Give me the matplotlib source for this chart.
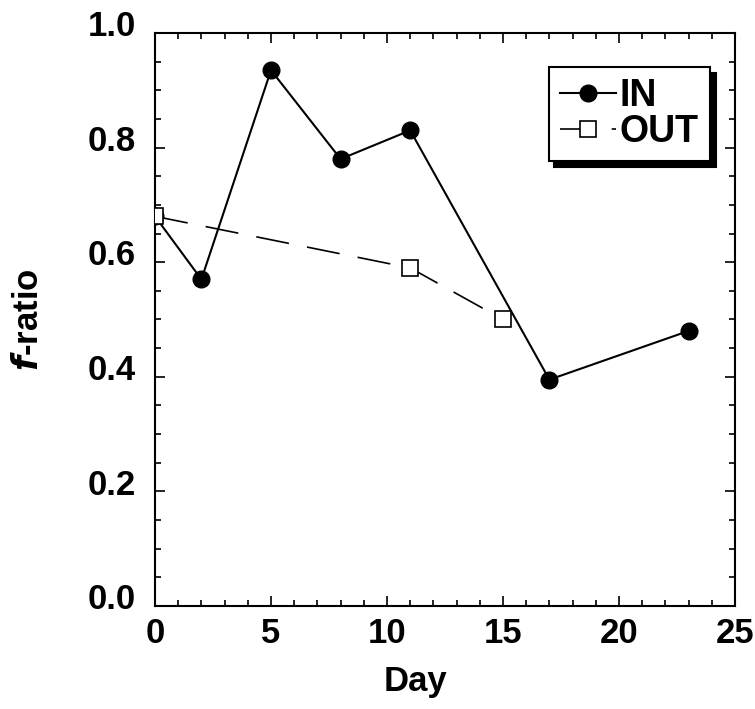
import matplotlib
matplotlib.use("Agg")
import matplotlib.pyplot as plt
from matplotlib.ticker import MultipleLocator
from matplotlib.transforms import ScaledTranslation

plt.rcParams['font.family'] = ['Liberation Sans', 'DejaVu Sans']
plt.rcParams['font.weight'] = 'bold'

# Data
day_in = [0, 2, 5, 8, 11, 17, 23]
f_in = [0.68, 0.57, 0.935, 0.78, 0.83, 0.395, 0.48]
day_out = [0, 11, 15]
f_out = [0.68, 0.59, 0.50]

fig = plt.figure(figsize=(7.55, 7.09), dpi=100)
ax = fig.add_axes([0.2053, 0.1453, 0.7682, 0.8082])

ax.plot(day_in, f_in, '-o', color='black', lw=1.5, ms=12, label='IN', zorder=3)
ax.plot(day_out, f_out, '--s', color='black', lw=1.2, ms=12, mfc='white',
        mew=1.2, dashes=(20, 11), label='OUT', zorder=4)

ax.set_xlim(0, 25)
ax.set_ylim(0, 1.0)
ax.xaxis.set_major_locator(MultipleLocator(5))
ax.xaxis.set_minor_locator(MultipleLocator(1))
ax.yaxis.set_major_locator(MultipleLocator(0.2))
ax.yaxis.set_minor_locator(MultipleLocator(0.05))
ax.yaxis.set_major_formatter(plt.FormatStrFormatter('%.1f'))
ax.tick_params(which='both', direction='in', top=True, right=True, width=1.2)
ax.tick_params(which='major', length=7, labelsize=25)
ax.tick_params(axis='x', which='major', pad=8)
ax.tick_params(axis='y', which='major', pad=14)
ax.tick_params(which='minor', length=4)
for s in ax.spines.values():
    s.set_linewidth(1.5)

# y tick labels sit a little above their ticks in the original
shift = ScaledTranslation(0, 7 / 72, fig.dpi_scale_trans)
for lab in ax.get_yticklabels():
    lab.set_transform(lab.get_transform() + shift)

ax.set_xlabel('Day', fontsize=25, fontweight='bold')
ax.xaxis.set_label_coords(0.45, -0.103)
ax.set_ylabel(r'$\mathbfit{f}$-ratio', fontsize=25, fontweight='bold')
ax.yaxis.set_label_coords(-0.19, 0.5)

leg = ax.legend(loc='upper right', fontsize=27, frameon=True, fancybox=False,
                edgecolor='black', handlelength=1.5, handletextpad=0.1,
                borderpad=0.3, labelspacing=0.0, borderaxespad=0,
                bbox_to_anchor=(0.957, 0.9407),
                shadow={'ox': 4, 'oy': -4, 'color': 'black', 'alpha': 1})
leg.get_frame().set_linewidth(1.5)
leg.get_frame().set_alpha(1)

fig.savefig('out.png', dpi=100)
